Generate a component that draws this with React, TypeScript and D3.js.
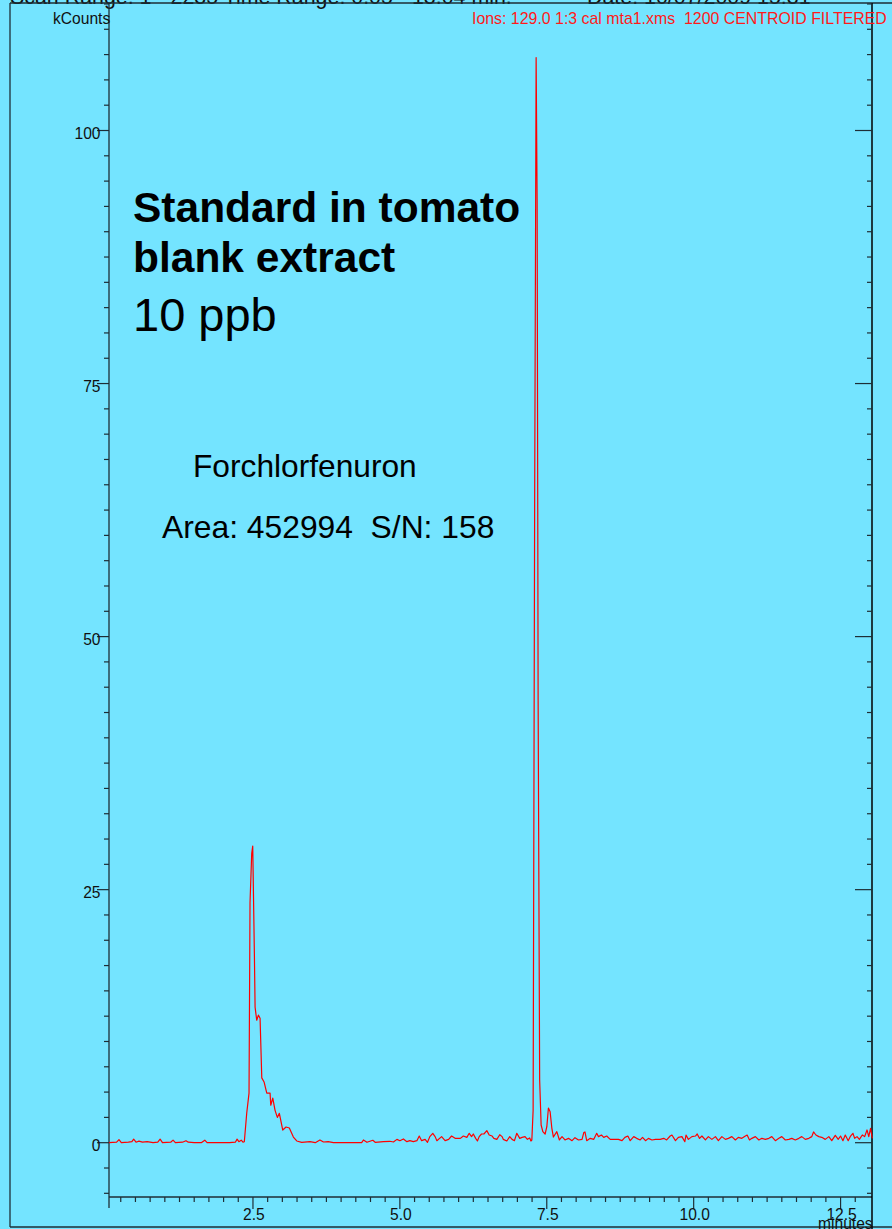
import React from 'react';
import * as d3 from 'd3';

const W = 892;
const H = 1229;

const headerLeft = 'Scan Range: 1 - 2235 Time Range: 0.05 - 13.04 min.';
const headerRight = 'Date: 10/07/2009 15:31';
const ionsLabel = 'Ions: 129.0 1:3 cal mta1.xms  1200 CENTROID FILTERED';
const yUnitLabel = 'kCounts';
const xUnitLabel = 'minutes';
const titleLines = ['Standard in tomato', 'blank extract'];
const concLabel = '10 ppb';
const compoundLabel = 'Forchlorfenuron';
const areaLabel = 'Area: 452994  S/N: 158';

const yMajorTicks = [0, 25, 50, 75, 100];
const yTickLabels = ['0', '25', '50', '75', '100'];
const xMajorTicks = [2.5, 5.0, 7.5, 10.0, 12.5];
const xTickLabels = ['2.5', '5.0', '7.5', '10.0', '12.5'];

// [time (min), intensity (kCounts)]
const earlyBaseline: [number, number][] = [
  [0.05, 0.0], [0.18, 0.05], [0.22, 0.3], [0.26, 0.0], [0.38, 0.05], [0.44, 0.1], [0.47, 0.35],
  [0.51, 0.05], [0.56, 0.15], [0.62, 0.05], [0.7, 0.1], [0.8, 0.0], [0.88, 0.05], [0.92, 0.35],
  [0.96, 0.0], [1.1, 0.05], [1.14, 0.25], [1.18, 0.0], [1.3, 0.05], [1.36, 0.2], [1.4, 0.05],
  [1.5, 0.0], [1.62, 0.0], [1.68, 0.25], [1.72, 0.0], [1.9, 0.0], [2.1, 0.0], [2.2, 0.05],
  [2.23, 0.35], [2.26, 0.1], [2.3, 0.25], [2.33, 0.05],
];

const peak1: [number, number][] = [
  [2.353, 0.1], [2.394, 2.93], [2.433, 4.9], [2.45, 23.7], [2.479, 28.6], [2.496, 29.3],
  [2.524, 18.7], [2.536, 13.4], [2.564, 12.1], [2.592, 12.6], [2.621, 12.3], [2.65, 6.4],
  [2.689, 6.0], [2.735, 4.9], [2.791, 4.9], [2.803, 3.7], [2.837, 4.4], [2.876, 3.2],
  [2.915, 2.5], [2.949, 2.9], [3.007, 1.25], [3.063, 1.55], [3.119, 1.45], [3.188, 0.56],
  [3.245, 0.17],
];

const midBaseline: [number, number][] = [
  [3.33, 0.04], [3.47, 0.1], [3.56, 0.0], [3.64, 0.27], [3.7, 0.07], [3.78, 0.1], [3.87, 0.0],
  [4.35, 0.0], [4.38, 0.27], [4.44, 0.04], [4.54, 0.24], [4.58, 0.04], [4.72, 0.1], [4.83, 0.14],
  [4.89, 0.07], [4.95, 0.33], [5.0, 0.2], [5.06, 0.37], [5.12, 0.1], [5.17, 0.2], [5.23, 0.1],
  [5.29, 0.2], [5.33, 0.66], [5.37, 0.2], [5.43, 0.33], [5.47, 0.04], [5.51, 0.6], [5.56, 0.93],
  [5.6, 0.6], [5.63, 0.2], [5.71, 0.6], [5.77, 0.2], [5.83, 0.33], [5.88, 0.66], [5.94, 0.43],
  [6.03, 0.43], [6.08, 0.66], [6.14, 0.53], [6.18, 0.93], [6.22, 0.6], [6.25, 0.86], [6.29, 0.43],
  [6.32, 0.17], [6.35, 0.6], [6.39, 0.86], [6.43, 0.86], [6.48, 1.19], [6.52, 0.76], [6.57, 0.66],
  [6.6, 0.43], [6.65, 0.33], [6.7, 0.79], [6.74, 0.6], [6.76, 0.33], [6.82, 0.17], [6.87, 0.6],
  [6.91, 0.33], [6.95, 0.2], [6.99, 0.93], [7.04, 0.43], [7.08, 0.53], [7.13, 0.6], [7.17, 0.33],
  [7.21, 0.47], [7.23, 0.17],
];

const peak2: [number, number][] = [
  [7.246, 0.27], [7.268, 3.2], [7.294, 63.5], [7.319, 107.2], [7.336, 93.1], [7.353, 43.7],
  [7.379, 6.2], [7.404, 1.75], [7.433, 1.1], [7.472, 0.86], [7.501, 1.58], [7.528, 3.43],
  [7.557, 3.06], [7.586, 1.45], [7.613, 0.56], [7.671, 1.09], [7.715, 0.27],
];

const lateBaseline: [number, number][] = [
  [7.76, 0.6], [7.81, 0.27], [7.87, 0.43], [7.93, 0.2], [7.98, 0.5], [8.04, 0.27], [8.1, 0.33],
  [8.13, 1.0], [8.15, 1.06], [8.18, 0.2], [8.24, 0.43], [8.3, 0.33], [8.35, 0.93], [8.38, 0.6],
  [8.43, 0.76], [8.47, 0.53], [8.52, 0.66], [8.58, 0.33], [8.66, 0.33], [8.72, 0.33], [8.78, 0.2],
  [8.83, 0.53], [8.88, 0.66], [8.92, 0.2], [8.98, 0.6], [9.03, 0.43], [9.09, 0.27], [9.13, 0.53],
  [9.18, 0.2], [9.23, 0.43], [9.29, 0.27], [9.35, 0.33], [9.43, 0.33], [9.49, 0.43], [9.54, 0.27],
  [9.6, 0.66], [9.63, 0.76], [9.69, 0.2], [9.74, 0.53], [9.8, 0.6], [9.85, 0.1], [9.87, 0.76],
  [9.91, 0.33], [9.97, 0.6], [10.03, 0.66], [10.06, 0.86], [10.1, 0.43], [10.14, 0.66], [10.2, 0.27],
  [10.25, 0.6], [10.31, 0.33], [10.37, 0.6], [10.42, 0.2], [10.48, 0.6], [10.54, 0.33], [10.59, 0.43],
  [10.65, 0.6], [10.71, 0.27], [10.76, 0.53], [10.82, 0.43], [10.88, 0.66], [10.91, 0.76], [10.95, 0.27],
  [10.99, 0.43], [11.05, 0.6], [11.11, 0.27], [11.16, 0.43], [11.22, 0.33], [11.28, 0.43], [11.33, 0.6],
  [11.39, 0.2], [11.45, 0.43], [11.5, 0.6], [11.56, 0.27], [11.62, 0.33], [11.67, 0.43], [11.73, 0.27],
  [11.79, 0.43], [11.84, 0.6], [11.9, 0.33], [11.96, 0.43], [12.01, 0.6], [12.04, 1.06], [12.08, 0.76],
  [12.13, 0.6], [12.18, 0.53], [12.24, 0.33], [12.3, 0.6], [12.35, 0.2], [12.41, 0.73], [12.46, 0.33],
  [12.5, 0.66], [12.54, 0.2], [12.58, 0.76], [12.63, 0.2], [12.67, 0.66], [12.71, 0.93], [12.74, 0.43],
  [12.78, 0.6], [12.82, 0.33], [12.87, 0.76], [12.91, 0.6], [12.95, 1.26], [12.98, 0.6], [13.01, 1.42],
  [13.04, 0.43],
];

const BG = '#74e4ff';
const AXIS = '#1e2e36';
const FONT = '"Liberation Sans", Arial, sans-serif';

export default function App() {
  const x = d3.scaleLinear().domain([0.05, 13.04]).range([109, 872.3]);
  const y = d3.scaleLinear().domain([0, 100]).range([1142.7, 130.5]);

  const axisLeft = 109;
  const axisRight = 872;
  const axisBottom = 1197;
  const top = 3;

  const trace = [...earlyBaseline, ...peak1, ...midBaseline, ...peak2, ...lateBaseline];
  const line = d3
    .line<[number, number]>()
    .x((d) => x(d[0]))
    .y((d) => y(d[1]));

  const yMinor = d3.range(-5, 113, 2.5).filter((v) => !yMajorTicks.includes(v));
  const xMinor = d3.range(0.25, 12.9, 0.25).filter((v) => !xMajorTicks.some((m) => Math.abs(m - v) < 1e-6));

  return (
    <svg
      width={W}
      height={H}
      style={{ position: 'absolute', left: 0, top: 0, display: 'block' }}
      fontFamily={FONT}
    >
      <rect x={0} y={0} width={W} height={H} fill={BG} />

      {/* header (cut off at top) */}
      <text x={10} y={4} fontSize={21.4} fill="#111">{headerLeft}</text>
      <text x={587} y={4} fontSize={21.4} fill="#111">{headerRight}</text>

      {/* outer frame */}
      <line x1={10} y1={top} x2={W} y2={top} stroke={AXIS} strokeWidth={1.3} />
      <line x1={10} y1={top} x2={10} y2={1227} stroke={AXIS} strokeWidth={1.3} />
      <line x1={10} y1={1227} x2={W} y2={1227} stroke={AXIS} strokeWidth={1.3} />

      {/* axes lines */}
      <line x1={axisLeft} y1={top} x2={axisLeft} y2={1208} stroke={AXIS} strokeWidth={1.3} />
      <line x1={axisLeft} y1={axisBottom} x2={axisRight} y2={axisBottom} stroke={AXIS} strokeWidth={1.3} />
      <line x1={axisRight} y1={top} x2={axisRight} y2={H} stroke="#000" strokeWidth={1.5} />

      {/* y ticks left and right */}
      {yMinor.map((v) => (
        <g key={'ym' + v}>
          <line x1={axisLeft - 5} x2={axisLeft} y1={y(v)} y2={y(v)} stroke={AXIS} strokeWidth={1.2} />
          <line x1={axisRight - 5} x2={axisRight} y1={y(v)} y2={y(v)} stroke={AXIS} strokeWidth={1.2} />
        </g>
      ))}
      {yMajorTicks.map((v, i) => (
        <g key={'yM' + v}>
          <line x1={axisLeft - 12} x2={axisLeft} y1={y(v)} y2={y(v)} stroke={AXIS} strokeWidth={1.2} />
          <line x1={axisRight - 17} x2={axisRight} y1={y(v)} y2={y(v)} stroke={AXIS} strokeWidth={1.2} />
          <text x={100.5} y={y(v) + 8.3} fontSize={15.6} textAnchor="end" fill="#111">
            {yTickLabels[i]}
          </text>
        </g>
      ))}

      {/* x ticks */}
      {xMinor.map((v) => (
        <line key={'xm' + v} x1={x(v)} x2={x(v)} y1={axisBottom} y2={axisBottom + 5} stroke={AXIS} strokeWidth={1.2} />
      ))}
      {xMajorTicks.map((v, i) => (
        <g key={'xM' + v}>
          <line x1={x(v)} x2={x(v)} y1={axisBottom} y2={axisBottom + 12} stroke={AXIS} strokeWidth={1.2} />
          <text x={x(v) + 1} y={1219.5} fontSize={15.6} textAnchor="middle" fill="#111">
            {xTickLabels[i]}
          </text>
        </g>
      ))}

      <text x={53} y={23.5} fontSize={15.6} fill="#111">{yUnitLabel}</text>
      <text x={818} y={1229} fontSize={15.6} fill="#111">{xUnitLabel}</text>
      <text x={472} y={24} fontSize={15.9} fill="#ff1a1a" style={{ whiteSpace: 'pre' }}>{ionsLabel}</text>

      {/* trace */}
      <path d={line(trace) || ''} fill="none" stroke="#ff0000" strokeWidth={1.2} strokeLinejoin="round" />

      {/* annotations */}
      <text x={133} y={222} fontSize={42.5} fontWeight="bold" fill="#000">{titleLines[0]}</text>
      <text x={133} y={272} fontSize={42.5} fontWeight="bold" fill="#000">{titleLines[1]}</text>
      <text x={133} y={331} fontSize={47} fill="#000">{concLabel}</text>
      <text x={193} y={477} fontSize={31.7} fill="#000">{compoundLabel}</text>
      <text x={162} y={538} fontSize={31.8} fill="#000" style={{ whiteSpace: 'pre' }}>{areaLabel}</text>
    </svg>
  );
}
